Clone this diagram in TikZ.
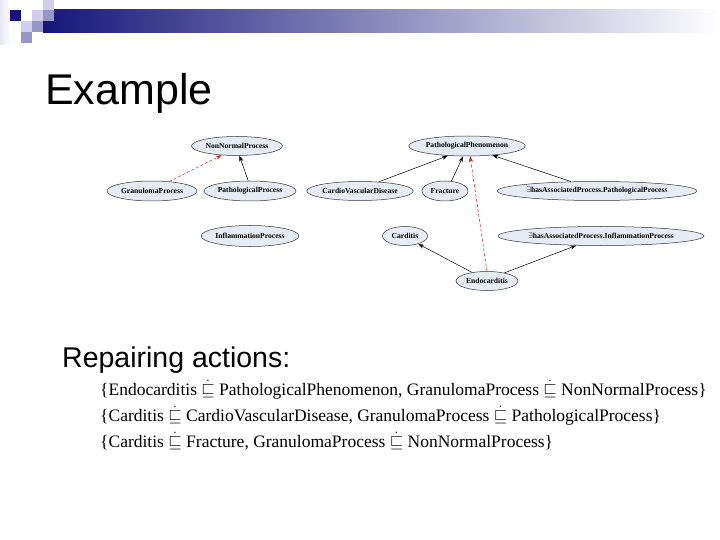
\documentclass[tikz,border=0pt]{standalone}
\usepackage{amsmath,amssymb}
\usepackage{fontspec}
\setmainfont{Liberation Serif}
\newfontfamily\arialfont{Liberation Sans}
\usetikzlibrary{shapes.geometric,arrows.meta}
\definecolor{navy}{RGB}{22,22,122}
\definecolor{midbar}{RGB}{165,165,190}
\definecolor{sqlight}{RGB}{208,208,236}
\definecolor{sqmid}{RGB}{150,150,200}
\definecolor{sqpale}{RGB}{232,232,245}
\definecolor{nodefill}{RGB}{230,236,246}
\definecolor{redarrow}{RGB}{210,30,30}
\tikzset{
  cls/.style={ellipse, draw=black!80, line width=0.5pt, fill=nodefill, inner sep=0pt,
    font=\fontsize{7.6}{8.5}\selectfont\bfseries},
  isa/.style={-{Stealth[length=6pt,width=4pt]}, line width=0.5pt, black},
  repair/.style={-{Stealth[length=6pt,width=4pt]}, line width=0.5pt, redarrow, dash pattern=on 3pt off 2pt},
  formula/.style={anchor=base west, inner sep=0pt, font=\fontsize{17.5}{20}\selectfont}
}
\begin{document}
\begin{tikzpicture}[x=1pt,y=-1pt]
\useasboundingbox (0,0) rectangle (720,540);
\fill[white] (0,0) rectangle (720,540);
% header decoration
\shade[left color=sqpale, right color=white] (0,0) rectangle (10,45);
\shade[left color=navy, middle color=midbar, right color=white] (43,10) rectangle (720,33);
\fill[navy] (10,10) rectangle (21,21);
\fill[sqlight] (21,21) rectangle (32,32);
\fill[sqmid] (21,32) rectangle (32,43);
\fill[sqlight] (32,10) rectangle (43,21);
\fill[sqmid] (32,21) rectangle (43,32);
\fill[sqlight] (43,0) rectangle (54,10);
\fill[sqmid] (43,10) rectangle (54,21);
% title
\node[anchor=base west, inner sep=0pt, font=\arialfont\fontsize{43}{50}\selectfont] (title) at (45,105) {Example};
% graph
\node[cls, minimum width=91pt, minimum height=19pt] (nnp) at (237,146) {NonNormalProcess};
\node[cls, minimum width=90pt, minimum height=20pt] (gp) at (152,191) {GranulomaProcess};
\node[cls, minimum width=92pt, minimum height=20pt] (pp) at (250,191) {PathologicalProcess};
\node[cls, minimum width=95pt, minimum height=21pt] (ip) at (250,236) {InflammationProcess};
\node[cls, minimum width=115pt, minimum height=20pt] (ph) at (467,146) {PathologicalPhenomenon};
\node[cls, minimum width=104pt, minimum height=19pt] (cvd) at (360,191) {CardioVascularDisease};
\node[cls, minimum width=46pt, minimum height=20pt] (fr) at (445,191) {Fracture};
\node[cls, minimum width=186pt, minimum height=19pt] (epp) at (597,191) {$\exists$hasAssociatedProcess.PathologicalProcess};
\node[cls, minimum width=45pt, minimum height=19pt] (car) at (405,236) {Carditis};
\node[cls, minimum width=192pt, minimum height=19pt] (eip) at (601,236) {$\exists$hasAssociatedProcess.InflammationProcess};
\node[cls, minimum width=62pt, minimum height=19pt] (endo) at (487,281) {Endocarditis};
% edges
\draw[repair] (gp.29) -- (nnp.211);
\draw[isa] (pp.100) -- (nnp.284);
\draw[isa] (cvd.26) -- (ph.207);
\draw[isa] (fr.57) -- (ph.249);
\draw[isa] (epp.160) -- (ph.340);
\draw[repair] (endo.90) -- (ph.287);
\draw[isa] (endo.150) -- (car.329);
\draw[isa] (endo.25) -- (eip.201);
% repairing actions
\node[anchor=base west, inner sep=0pt, font=\arialfont\fontsize{28.5}{34}\selectfont] (rep) at (62,367) {Repairing actions:};
\node[formula] (f1) at (100,395) {\{Endocarditis $\dot{\sqsubseteq}$ PathologicalPhenomenon, GranulomaProcess $\dot{\sqsubseteq}$ NonNormalProcess\}};
\node[formula] (f2) at (100,421) {\{Carditis $\dot{\sqsubseteq}$ CardioVascularDisease, GranulomaProcess $\dot{\sqsubseteq}$ PathologicalProcess\}};
\node[formula] (f3) at (100,447) {\{Carditis $\dot{\sqsubseteq}$ Fracture, GranulomaProcess $\dot{\sqsubseteq}$ NonNormalProcess\}};
\end{tikzpicture}
\end{document}
